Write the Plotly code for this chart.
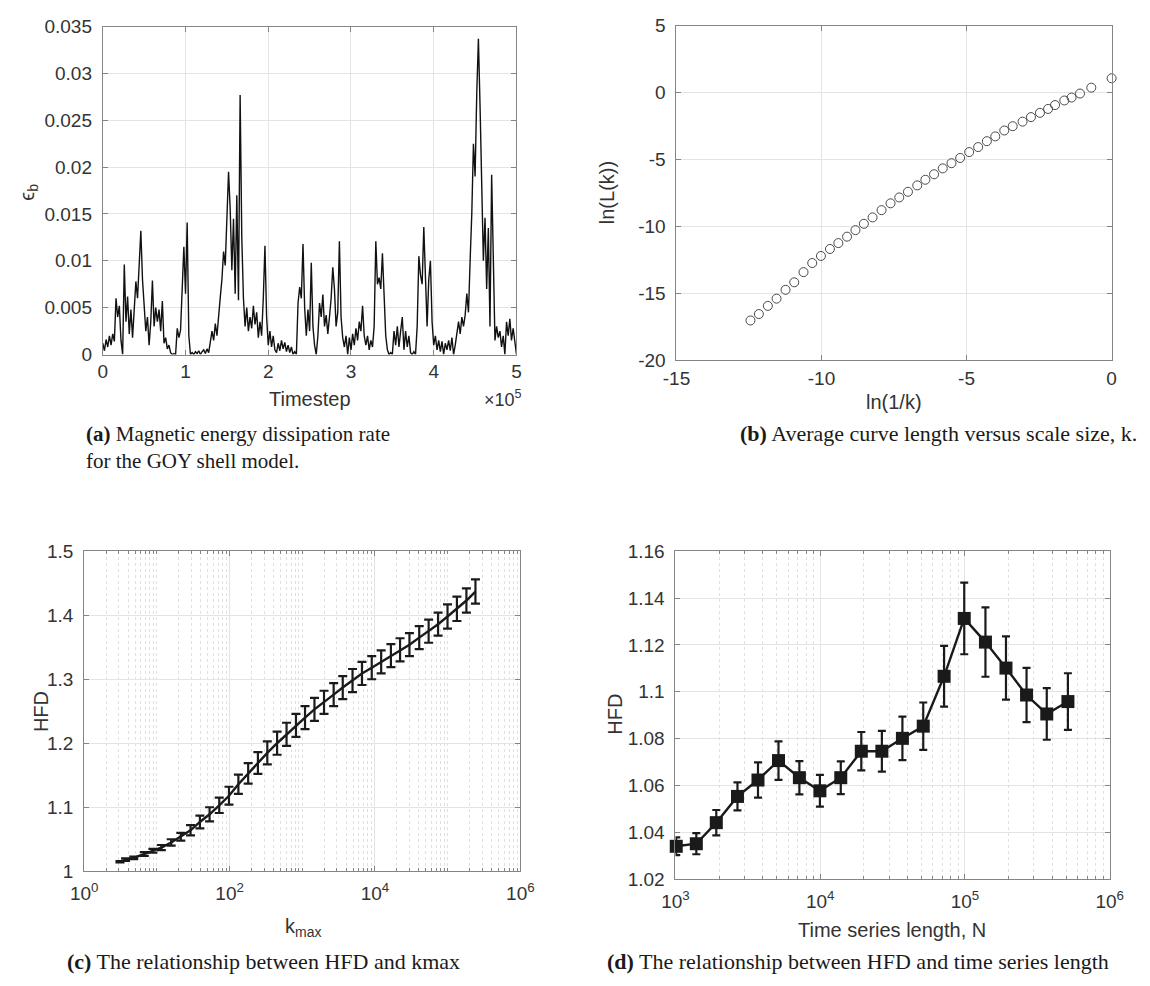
import plotly.graph_objects as go

# ---------------- data ----------------
# (a) magnetic energy dissipation rate, sampled every 2000 timesteps (values in 1e-3)
timestep_step = 2000
eps_b_milli = [
    1.2, 0.4, 1.6, 0.8, 2.0, 1.0, 2.2, 1.4, 6.0, 4.0,
    5.2, 1.5, 0.0, 9.6, 3.5, 6.2, 2.2, 4.8, 1.8, 5.5,
    7.8, 6.0, 9.5, 13.2, 8.0, 4.5, 2.5, 4.0, 1.0, 3.5,
    7.9, 3.0, 5.0, 3.5, 4.8, 2.5, 5.7, 1.2, 1.8, 0.6,
    1.0, 0.2, 0.0, 0.1, 0.0, 2.8, 1.8, 2.6, 7.5, 11.5,
    6.5, 14.1, 2.0, 0.0, 0.2, 0.0, 0.3, 0.1, 0.4, 0.0,
    0.3, 0.5, 0.1, 0.6, 0.2, 1.2, 2.5, 1.5, 3.3, 2.0,
    4.5, 6.1, 8.0, 11.0, 9.5, 14.0, 19.5, 15.5, 9.0, 14.5,
    6.5, 17.0, 5.8, 27.7, 12.5, 6.0, 3.0, 5.0, 2.5, 4.0,
    2.8, 5.2, 3.2, 4.5, 1.8, 3.5, 2.0, 6.0, 11.6, 4.0,
    1.0, 2.5, 0.8, 2.0, 0.5, 0.2, 1.2, 0.4, 1.5, 0.6,
    1.3, 0.3, 1.0, 0.2, 0.8, 0.0, 0.3, 0.0, 5.5, 7.2,
    6.0, 11.8, 5.0, 2.0, 4.8, 2.5, 9.8, 3.0, 1.0, 0.0,
    2.0, 5.5, 4.0, 6.4, 3.0, 4.2, 2.2, 4.0, 6.0, 9.3,
    7.0, 3.0, 4.5, 12.1, 4.0, 1.8, 0.8, 2.0, 0.0, 1.8,
    0.5, 2.2, 1.0, 2.8, 1.5, 3.5, 2.5, 5.2, 2.0, 1.0,
    2.0, 0.5, 1.5, 0.8, 3.0, 12.1, 7.5, 8.2, 7.0, 10.8,
    5.5, 2.0, 0.5, 0.0, 0.2, 0.0, 2.5, 1.0, 3.0, 0.8,
    2.5, 4.0, 0.5, 2.5, 0.8, 2.0, 0.2, 0.0, 0.3, 0.0,
    3.0, 10.5, 8.5, 7.5, 13.6, 7.0, 3.0, 8.0, 10.0, 3.5,
    1.0, 2.0, 0.5, 1.5, 0.3, 1.4, 0.0, 1.2, 0.5, 1.5,
    0.4, 1.8, 0.0, 1.0, 2.5, 3.5, 2.2, 4.0, 3.0, 4.2,
    6.5, 4.5, 10.0, 15.0, 22.5, 19.0, 27.8, 33.7, 26.5, 15.9,
    10.0, 14.6, 7.0, 13.5, 3.0, 19.2, 8.0, 1.5, 3.0, 1.8,
    2.5, 0.8, 2.0, 0.0, 3.5, 2.0, 3.8, 1.5, 2.8, 1.0,
    0.0,
]

# (b) average curve length versus scale size
ln_inv_k = [-12.45, -12.16, -11.85, -11.55, -11.24, -10.94, -10.62, -10.32, -10.02, -9.71,
            -9.42, -9.12, -8.83, -8.54, -8.24, -7.93, -7.62, -7.32, -7.02, -6.70,
            -6.42, -6.12, -5.82, -5.52, -5.22, -4.91, -4.60, -4.30, -4.01, -3.70,
            -3.41, -3.07, -2.78, -2.47, -2.19, -1.95, -1.63, -1.38, -1.09, -0.70, 0.0]
ln_L_k = [-17.02, -16.54, -15.93, -15.39, -14.73, -14.17, -13.41, -12.73, -12.20, -11.68,
          -11.24, -10.76, -10.27, -9.80, -9.32, -8.78, -8.27, -7.83, -7.41, -6.93,
          -6.51, -6.10, -5.66, -5.27, -4.88, -4.44, -4.07, -3.63, -3.27, -2.83,
          -2.51, -2.17, -1.83, -1.51, -1.22, -0.93, -0.59, -0.37, -0.07, 0.37, 1.07]

# (c) HFD versus kmax
kmax = [3.1, 3.7, 4.8, 6.7, 8.8, 11.5, 15.7, 21.3, 29, 39,
        53, 72, 98, 132, 180, 245, 330, 450, 607, 818,
        1090, 1470, 1990, 2700, 3600, 4910, 6620, 9020, 12160, 16560,
        22120, 29800, 40600, 54700, 73800, 99500, 134000, 181000, 241000]
hfd_k = [1.015, 1.018, 1.021, 1.027, 1.032, 1.037, 1.045, 1.054, 1.064, 1.077,
         1.089, 1.103, 1.118, 1.136, 1.153, 1.169, 1.185, 1.200, 1.214, 1.228,
         1.240, 1.253, 1.264, 1.276, 1.287, 1.298, 1.309, 1.318, 1.327, 1.337,
         1.346, 1.354, 1.365, 1.375, 1.386, 1.398, 1.410, 1.423, 1.437]
hfd_k_err = [0.001, 0.002, 0.002, 0.003, 0.003, 0.004, 0.005, 0.006, 0.008, 0.010,
             0.011, 0.012, 0.014, 0.015, 0.016, 0.017, 0.018, 0.018, 0.018, 0.018,
             0.018, 0.018, 0.018, 0.018, 0.018, 0.018, 0.018, 0.018, 0.018, 0.018,
             0.018, 0.018, 0.018, 0.018, 0.018, 0.019, 0.019, 0.019, 0.019]

# (d) HFD versus time series length
series_len = [1012, 1393, 1914, 2681, 3715, 5150, 7180, 9950, 13870, 19230,
              26670, 36980, 51520, 71780, 98900, 138600, 192100, 266500, 367600, 514700]
hfd_n = [1.0340, 1.0351, 1.0441, 1.0553, 1.0623, 1.0706, 1.0633, 1.0577, 1.0633, 1.0746,
         1.0746, 1.0801, 1.0853, 1.1066, 1.1313, 1.1212, 1.1101, 1.0986, 1.0905, 1.0958]
hfd_n_err = [0.0038, 0.0045, 0.0054, 0.0060, 0.0075, 0.0082, 0.0071, 0.0068, 0.0070, 0.0082,
             0.0087, 0.0093, 0.0101, 0.0130, 0.0153, 0.0148, 0.0135, 0.0116, 0.0110, 0.0121]

# ---------------- figure ----------------
W, H = 1150, 986
timesteps = [i * timestep_step for i in range(len(eps_b_milli))]
eps_b = [v * 1e-3 for v in eps_b_milli]

fig = go.Figure()
fig.add_trace(go.Scatter(x=timesteps, y=eps_b, mode="lines",
                         line=dict(color="#111111", width=1.4), xaxis="x", yaxis="y"))
fig.add_trace(go.Scatter(x=ln_inv_k, y=ln_L_k, mode="markers",
                         marker=dict(symbol="circle-open", size=9, color="#4a4a4a",
                                     line=dict(width=1, color="#4a4a4a")),
                         cliponaxis=False, xaxis="x2", yaxis="y2"))
fig.add_trace(go.Scatter(x=kmax, y=hfd_k, mode="lines",
                         line=dict(color="#1a1a1a", width=2.4),
                         error_y=dict(type="data", array=hfd_k_err, visible=True,
                                      color="#1a1a1a", thickness=2.2, width=4.5),
                         xaxis="x3", yaxis="y3"))
fig.add_trace(go.Scatter(x=series_len, y=hfd_n, mode="lines+markers",
                         line=dict(color="#1a1a1a", width=2.4),
                         marker=dict(symbol="square", size=13, color="#1a1a1a"),
                         error_y=dict(type="data", array=hfd_n_err, visible=True,
                                      color="#1a1a1a", thickness=2.2, width=4),
                         cliponaxis=False, xaxis="x4", yaxis="y4"))

TICKFONT = dict(family="Liberation Sans, Arial, sans-serif", size=19, color="#333333")
LINEC = "#858585"


def axis(domain, anchor, **kw):
    d = dict(domain=domain, anchor=anchor, showline=True, linecolor=LINEC, linewidth=1,
             mirror="ticks", ticks="inside", ticklen=5, tickcolor=LINEC, tickwidth=1,
             showgrid=True, gridcolor="#e4e4e4", gridwidth=1, zeroline=False,
             tickfont=TICKFONT, ticklabelstandoff=6)
    d.update(kw)
    return d


def px_x(p):
    return p / W


def px_y(p):
    return 1 - p / H


minor_log = dict(ticks="inside", ticklen=3, tickcolor=LINEC, showgrid=True,
                 gridcolor="#e0e0e0", griddash="dot", gridwidth=1, dtick="D1")

a_xt = [0, 100000, 200000, 300000, 400000, 500000]
a_yt = [0, 0.005, 0.01, 0.015, 0.02, 0.025, 0.03, 0.035]
b_xt = [-15, -10, -5, 0]
b_yt = [-20, -15, -10, -5, 0, 5]
c_xt = [1, 100, 10000, 1000000]
c_yt = [1, 1.1, 1.2, 1.3, 1.4, 1.5]
d_xt = [1000, 10000, 100000, 1000000]
d_yt = [1.02, 1.04, 1.06, 1.08, 1.1, 1.12, 1.14, 1.16]

fig.update_layout(
    width=W, height=H, margin=dict(l=0, r=0, t=0, b=0),
    paper_bgcolor="white", plot_bgcolor="white", showlegend=False,
    xaxis=axis([px_x(91), px_x(515)], "y", range=[0, 500000], tickvals=a_xt,
               ticktext=["0", "1", "2", "3", "4", "5"], ticklabelstandoff=0),
    yaxis=axis([px_y(352), px_y(17)], "x", range=[0, 0.035], tickvals=a_yt,
               ticktext=["0", "0.005", "0.01", "0.015", "0.02", "0.025", "0.03", "0.035"]),
    xaxis2=axis([px_x(679), px_x(1125)], "y2", range=[-15, 0], tickvals=b_xt,
                ticktext=["-15", "-10", "-5", "0"], ticklabelstandoff=1),
    yaxis2=axis([px_y(358), px_y(16)], "x2", range=[-20, 5], tickvals=b_yt,
                ticktext=["-20", "-15", "-10", "-5", "0", "5"]),
    xaxis3=axis([px_x(72), px_x(519)], "y3", type="log", range=[0, 6], tickvals=c_xt,
                ticktext=["10<sup>0</sup>", "10<sup>2</sup>", "10<sup>4</sup>", "10<sup>6</sup>"],
                minor=minor_log, ticklabelstandoff=5),
    yaxis3=axis([px_y(880), px_y(553)], "x3", range=[1, 1.5], tickvals=c_yt,
                ticktext=["1", "1.1", "1.2", "1.3", "1.4", "1.5"]),
    xaxis4=axis([px_x(678), px_x(1123)], "y4", type="log", range=[3, 6], tickvals=d_xt,
                ticktext=["10<sup>3</sup>", "10<sup>4</sup>", "10<sup>5</sup>", "10<sup>6</sup>"],
                minor=minor_log, ticklabelstandoff=5),
    yaxis4=axis([px_y(888), px_y(553)], "x4", range=[1.02, 1.16], tickvals=d_yt,
                ticktext=["1.02", "1.04", "1.06", "1.08", "1.1", "1.12", "1.14", "1.16"]),
)

TITLEFONT = dict(family="Liberation Sans, Arial, sans-serif", size=20, color="#333333")
CAPFONT = dict(family="Liberation Serif, Times New Roman, serif", size=22, color="#1a1a1a")
CAPFONT_A = dict(CAPFONT, size=21)

ann = []


def add(text, x, y, font, xanchor="center", angle=0):
    ann.append(dict(text=text, x=px_x(x), y=px_y(y), xref="paper", yref="paper",
                    xanchor=xanchor, yanchor="middle", showarrow=False, font=font,
                    textangle=angle))


# axis titles
add("Timestep", 303, 397, TITLEFONT)
add("×10<sup>5</sup>", 523, 397, dict(TICKFONT, size=18), xanchor="right")
add("ϵ<sub>b</sub>", 14, 186, TITLEFONT, angle=-90)
add("ln(1/k)", 902, 401, TITLEFONT)
add("ln(L(k))", 608, 187, TITLEFONT, angle=-90)
add("k<sub>max</sub>", 296, 937, TITLEFONT)
add("HFD", 27, 717, TITLEFONT, angle=-90)
add("Time series length, N", 900, 940, TITLEFONT)
add("HFD", 616, 720, TITLEFONT, angle=-90)

# captions
add("<b>(a)</b> Magnetic energy dissipation rate", 72, 433, CAPFONT_A, xanchor="left")
add("for the GOY shell model.", 72, 461, CAPFONT_A, xanchor="left")
add("<b>(b)</b> Average curve length versus scale size, k.", 742, 433, CAPFONT, xanchor="left")
add("<b>(c)</b> The relationship between HFD and kmax", 52, 972, CAPFONT, xanchor="left")
add("<b>(d)</b> The relationship between HFD and time series length", 606, 972, CAPFONT,
    xanchor="left")

fig.update_layout(annotations=ann)
fig.write_html("out.html")
